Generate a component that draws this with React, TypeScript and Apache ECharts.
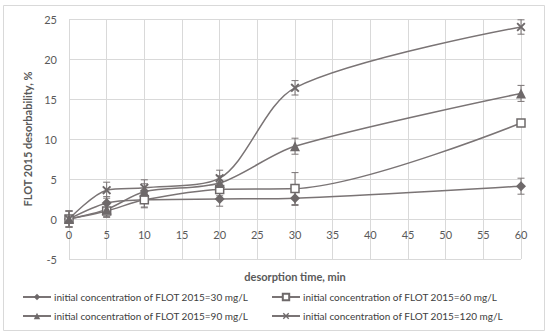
import React, { useEffect, useRef } from "react";
import * as echarts from "echarts";

const xValues = [0, 5, 10, 20, 30, 60];
const names = [
  "initial concentration of FLOT 2015=30 mg/L",
  "initial concentration of FLOT 2015=60 mg/L",
  "initial concentration of FLOT 2015=90 mg/L",
  "initial concentration of FLOT 2015=120 mg/L",
];
const s30 = [0, 2.0, 2.4, 2.5, 2.6, 4.1];
const s60 = [0, 1.0, 2.4, 3.7, 3.8, 12.0];
const s90 = [0, 1.2, 3.4, 4.5, 9.1, 15.7];
const s120 = [0, 3.6, 3.9, 5.1, 16.4, 24.0];
const e30 = [1.0, 0.8, 0.9, 0.9, 0.9, 1.0];
const e60 = [1.0, 0.8, 1.0, 0.8, 2.0, 0.3];
const e90 = [1.0, 0.9, 1.0, 0.9, 1.0, 1.0];
const e120 = [1.0, 1.0, 1.0, 1.0, 0.9, 0.9];
const yTicks = { min: -5, max: 25, interval: 5 };
const xTicks = { min: 0, max: 60, interval: 5 };

const LINE = "#7a7475";
const MARK = "#6e696a";
const FONT = "Lato";

const XSYM =
  "path://M1.5,0 L5,3.5 L8.5,0 L10,1.5 L6.5,5 L10,8.5 L8.5,10 L5,6.5 L1.5,10 L0,8.5 L3.5,5 L0,1.5 Z";

export default function App() {
  const ref = useRef<HTMLDivElement>(null);
  useEffect(() => {
    const chart = echarts.init(ref.current!, null, { renderer: "svg" });
    const allY = [s30, s60, s90, s120];
    const allE = [e30, e60, e90, e120];
    const symbols = ["diamond", "rect", "triangle", XSYM];
    const sizes = [10, 8, 10, 9];
    const lineSeries = allY.map((ys, i) => ({
      name: names[i],
      type: "line",
      data: xValues.map((x, j) => [x, ys[j]]),
      smooth: 0.3,
      symbol: symbols[i],
      symbolSize: sizes[i],
      showAllSymbol: true,
      lineStyle: { color: LINE, width: 1.5 },
      itemStyle:
        i === 1
          ? { color: "#ffffff", borderColor: MARK, borderWidth: 1.5 }
          : { color: MARK, borderWidth: 0 },
      z: 3,
    }));
    const errSeries = allY.map((ys, i) => ({
      type: "custom",
      data: xValues.map((x, j) => [x, ys[j], allE[i][j]]),
      encode: { x: 0, y: [1] },
      z: 2,
      silent: true,
      renderItem: (_p: any, api: any) => {
        const x = api.value(0);
        const y = api.value(1);
        const e = api.value(2);
        const t = api.coord([x, y + e]);
        const b = api.coord([x, y - e]);
        const w = 3.5;
        const st = { stroke: LINE, lineWidth: 1 };
        return {
          type: "group",
          children: [
            { type: "line", shape: { x1: t[0], y1: t[1], x2: b[0], y2: b[1] }, style: st },
            { type: "line", shape: { x1: t[0] - w, y1: t[1], x2: t[0] + w, y2: t[1] }, style: st },
            { type: "line", shape: { x1: b[0] - w, y1: b[1], x2: b[0] + w, y2: b[1] }, style: st },
          ],
        };
      },
    }));
    const legendPos = [
      [22, 292],
      [271, 292],
      [22, 311],
      [271, 311],
    ];
    chart.setOption({
      animation: false,
      backgroundColor: "#ffffff",
      textStyle: { fontFamily: FONT },
      grid: { left: 69, right: 29, top: 19, bottom: 74 },
      graphic: [
        {
          type: "rect",
          shape: { x: 3.5, y: 5.5, width: 541, height: 325 },
          style: { fill: "none", stroke: "#d9d9d9", lineWidth: 1 },
          silent: true,
        },
        {
          type: "text",
          x: 295,
          y: 276,
          style: {
            text: "desorption time, min",
            fontFamily: FONT,
            fontSize: 11,
            fontWeight: "bold",
            fill: "#595959",
            align: "center",
            verticalAlign: "middle",
          },
        },
      ],
      legend: names.map((n, i) => ({
        data: [n],
        left: legendPos[i][0],
        top: legendPos[i][1],
        padding: 0,
        itemWidth: 28,
        itemHeight: 8,
        itemGap: 0,
        textStyle: { fontFamily: FONT, fontSize: 10, color: "#404040", padding: [0, 0, 0, -2] },
        selectedMode: false,
      })),
      xAxis: {
        type: "value",
        min: xTicks.min,
        max: xTicks.max,
        interval: xTicks.interval,
        offset: -40,
        axisLine: { show: true, onZero: false, lineStyle: { color: "#d9d9d9" } },
        axisTick: { show: false },
        axisLabel: { color: "#595959", fontSize: 11, fontFamily: FONT, margin: 10 },
        splitLine: { show: true, lineStyle: { color: "#d9d9d9", width: 1 } },
      },
      yAxis: {
        type: "value",
        min: yTicks.min,
        max: yTicks.max,
        interval: yTicks.interval,
        name: "FLOT 2015 desorbability, %",
        nameLocation: "middle",
        nameGap: 33,
        nameTextStyle: { color: "#595959", fontSize: 11, fontWeight: "bold", fontFamily: FONT },
        axisLine: { show: false },
        axisTick: { show: false },
        axisLabel: { color: "#595959", fontSize: 11, fontFamily: FONT, margin: 12 },
        splitLine: { show: true, lineStyle: { color: "#d9d9d9", width: 1 } },
      },
      series: [...errSeries, ...lineSeries],
    });
    return () => chart.dispose();
  }, []);
  return (
    <div
      ref={ref}
      style={{ position: "fixed", left: 0, top: 0, width: 550, height: 333 }}
    />
  );
}
